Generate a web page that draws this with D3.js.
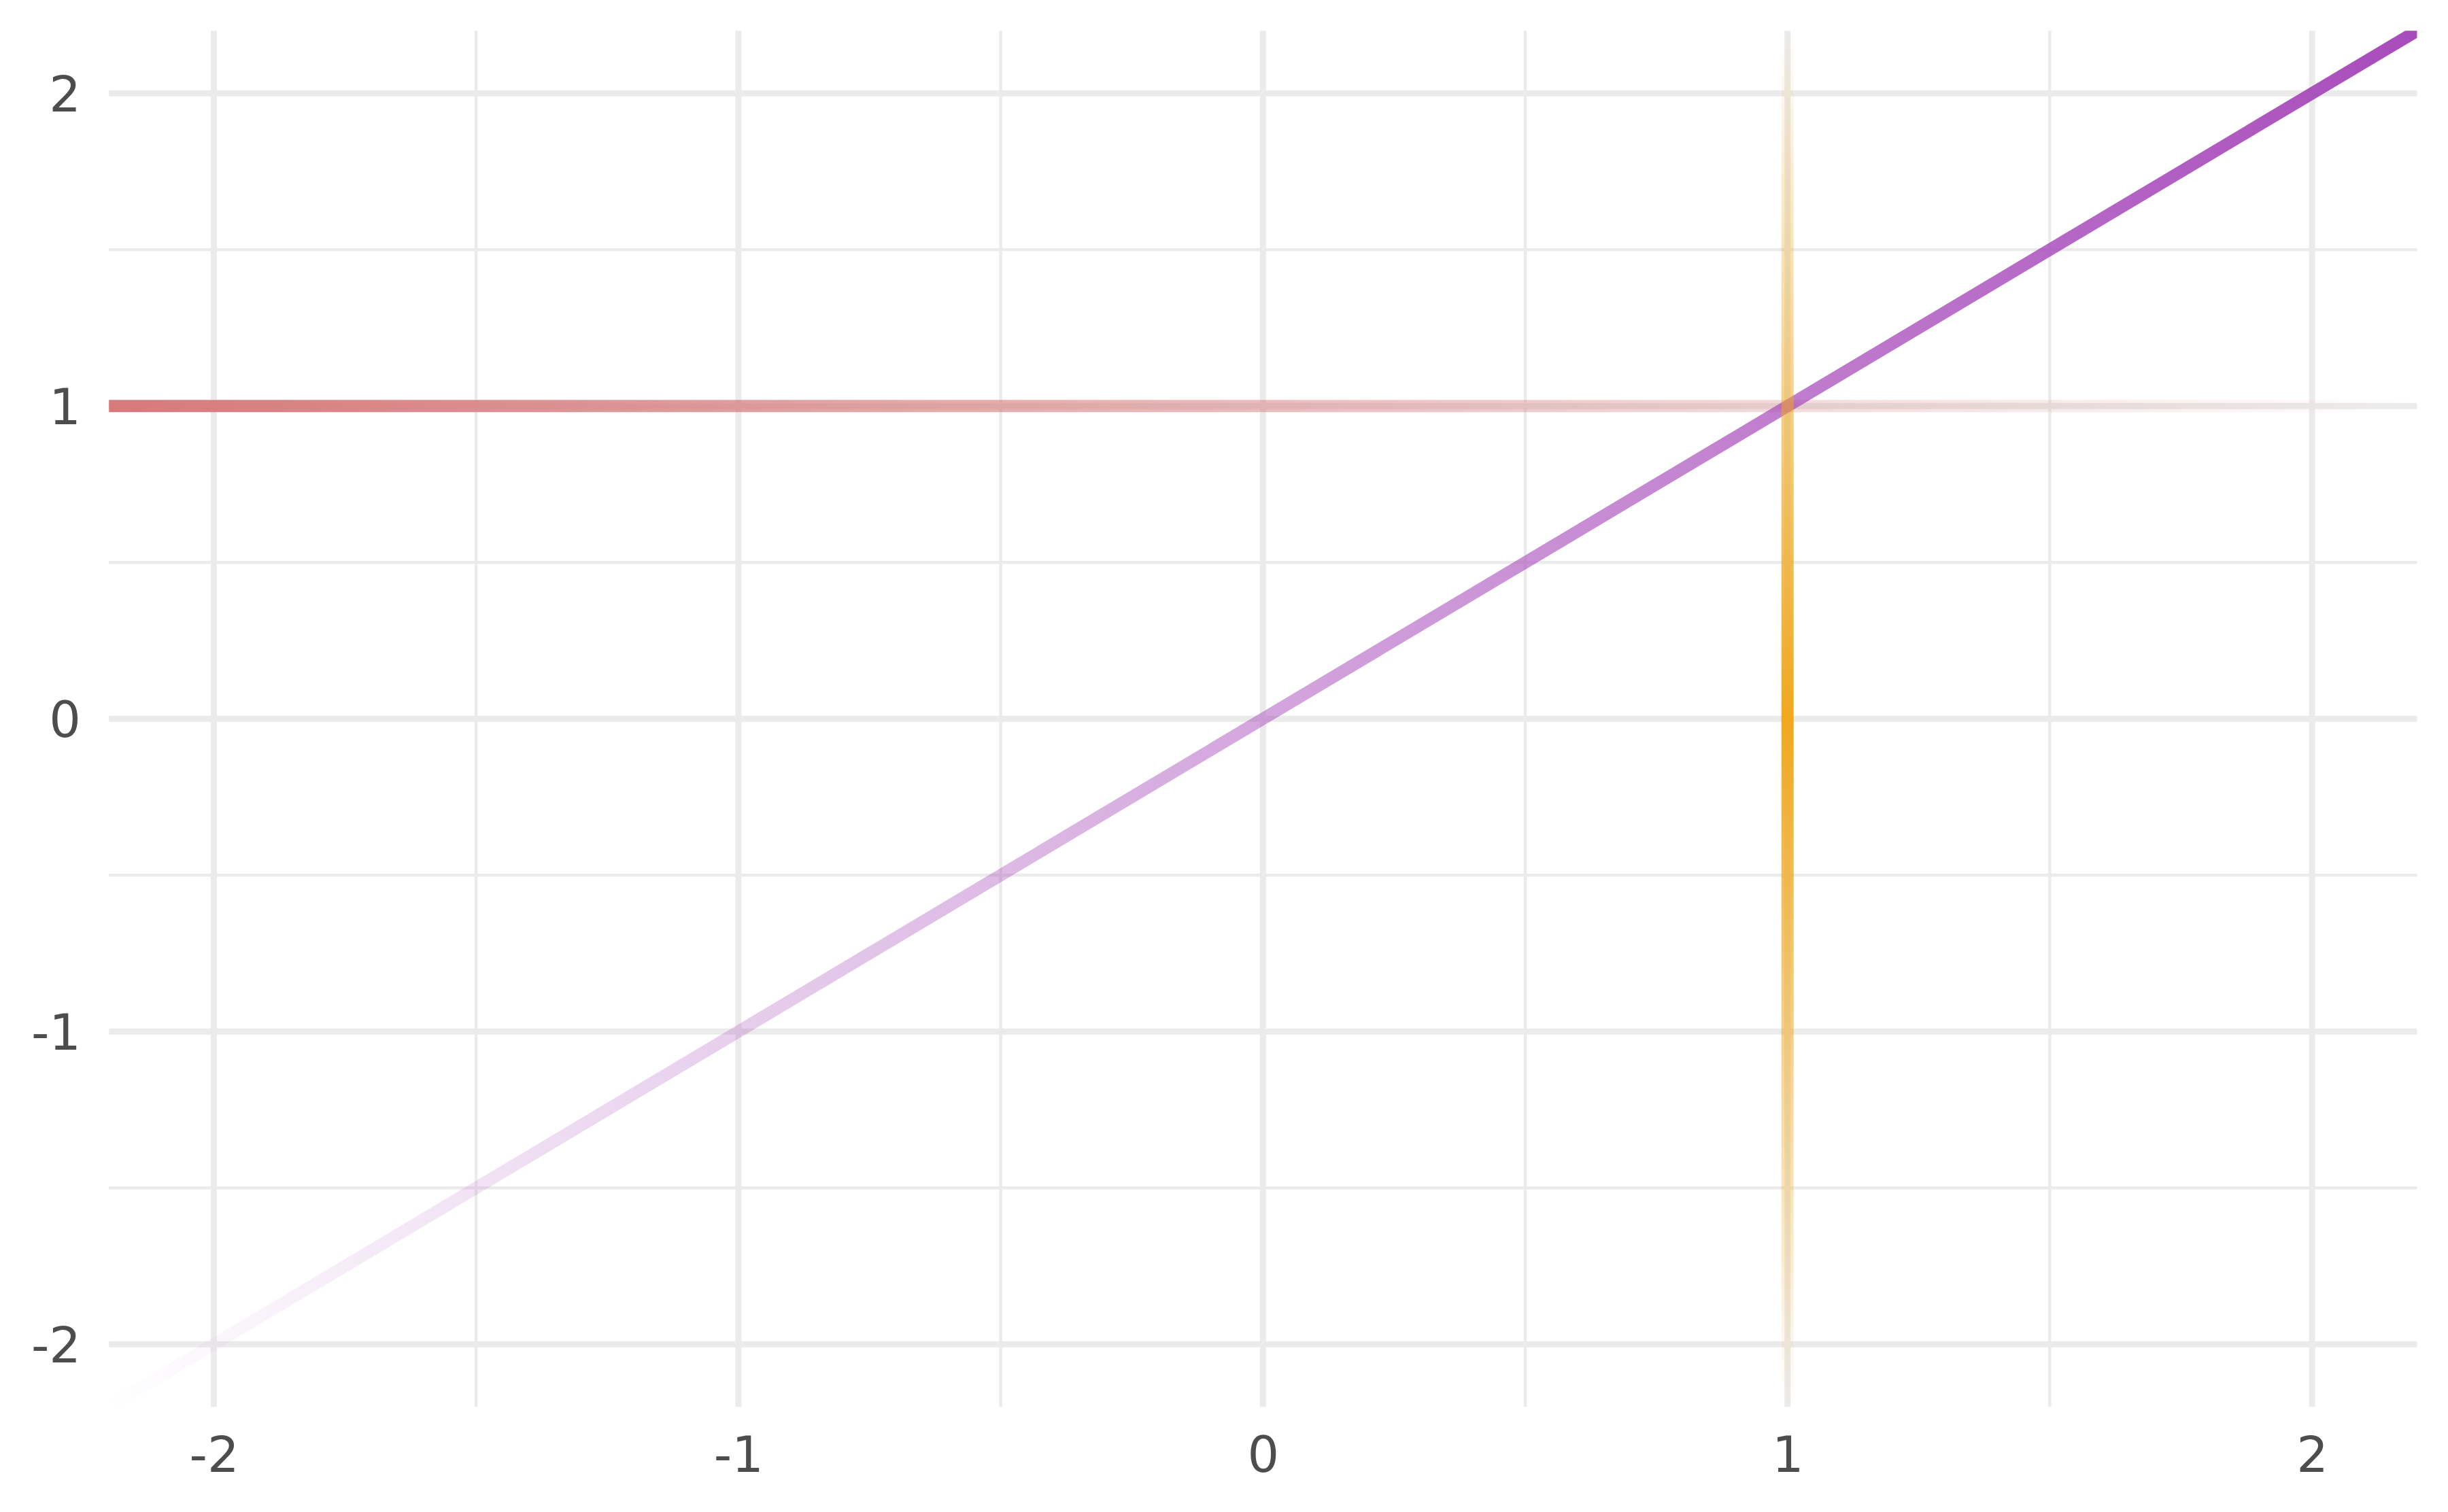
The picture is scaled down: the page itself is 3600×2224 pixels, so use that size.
<!DOCTYPE html>
<html>
<head>
<meta charset="utf-8">
<script src="https://cdn.jsdelivr.net/npm/d3@7"></script>
<style>
  html, body { margin: 0; padding: 0; background: #ffffff; }
  svg { display: block; }
</style>
</head>
<body>
<svg id="chart"></svg>
<script>
// axis limits and ticks
var xLimits = [-2.2, 2.2]
var yLimits = [-2.2, 2.2]
var majorTicks = [-2, -1, 0, 1, 2]
var minorTicks = [-1.5, -0.5, 0.5, 1.5]

// each series is a line whose opacity changes along it
var hLine = [{x: -2.2, y: 1, alpha: 1}, {x: 2.2, y: 1, alpha: 0}]
var diagLine = [{x: -2.2, y: -2.2, alpha: 0}, {x: 2.2, y: 2.2, alpha: 1}]
var vLine = [{x: 1, y: 2.2, alpha: 0}, {x: 1, y: 0, alpha: 1}, {x: 1, y: -2.2, alpha: 0}]

var seriesNames = ["horizontal", "diagonal", "vertical"]
var seriesColors = ["#D67A7A", "#A84CBB", "#F0A81E"]

var screen = {width: 3600, height: 2224}
var margins = {top: 45.3, right: 45.6, bottom: 154.7, left: 160.2}
var width = screen.width - margins.left - margins.right
var height = screen.height - margins.top - margins.bottom

var svg = d3.select("#chart")
    .attr("width", screen.width)
    .attr("height", screen.height)

var xScale = d3.scaleLinear().domain(xLimits).range([0, width])
var yScale = d3.scaleLinear().domain(yLimits).range([height, 0])

var graph = svg.append("g")
    .attr("id", "graph")
    .attr("transform", "translate(" + margins.left + "," + margins.top + ")")

var defs = svg.append("defs")
defs.append("clipPath")
    .attr("id", "panelClip")
    .append("rect")
    .attr("x", 0).attr("y", 0)
    .attr("width", width).attr("height", height)

//gridlines, minor first
var grid = graph.append("g").attr("class", "grid")
grid.selectAll(".vminor").data(minorTicks).enter().append("line")
    .attr("x1", function(d) { return xScale(d) })
    .attr("x2", function(d) { return xScale(d) })
    .attr("y1", 0).attr("y2", height)
    .attr("stroke", "#EBEBEB").attr("stroke-width", 4.45)
grid.selectAll(".hminor").data(minorTicks).enter().append("line")
    .attr("y1", function(d) { return yScale(d) })
    .attr("y2", function(d) { return yScale(d) })
    .attr("x1", 0).attr("x2", width)
    .attr("stroke", "#EBEBEB").attr("stroke-width", 4.45)
grid.selectAll(".vmajor").data(majorTicks).enter().append("line")
    .attr("x1", function(d) { return xScale(d) })
    .attr("x2", function(d) { return xScale(d) })
    .attr("y1", 0).attr("y2", height)
    .attr("stroke", "#EBEBEB").attr("stroke-width", 8.9)
grid.selectAll(".hmajor").data(majorTicks).enter().append("line")
    .attr("y1", function(d) { return yScale(d) })
    .attr("y2", function(d) { return yScale(d) })
    .attr("x1", 0).attr("x2", width)
    .attr("stroke", "#EBEBEB").attr("stroke-width", 8.9)

//gradient lines
var drawLine = function(points, name, color)
{
    var first = points[0]
    var last = points[points.length - 1]
    var grad = defs.append("linearGradient")
        .attr("id", "grad-" + name)
        .attr("gradientUnits", "userSpaceOnUse")
        .attr("x1", xScale(first.x)).attr("y1", yScale(first.y))
        .attr("x2", xScale(last.x)).attr("y2", yScale(last.y))
    var dx = last.x - first.x
    var dy = last.y - first.y
    var len2 = dx * dx + dy * dy
    grad.selectAll("stop").data(points).enter().append("stop")
        .attr("offset", function(p) { return ((p.x - first.x) * dx + (p.y - first.y) * dy) / len2 })
        .attr("stop-color", color)
        .attr("stop-opacity", function(p) { return p.alpha })

    // run a little past both ends so the clip cuts it at the panel edge
    graph.append("line")
        .attr("clip-path", "url(#panelClip)")
        .attr("x1", xScale(first.x - dx * 0.05)).attr("y1", yScale(first.y - dy * 0.05))
        .attr("x2", xScale(last.x + dx * 0.05)).attr("y2", yScale(last.y + dy * 0.05))
        .attr("stroke", "url(#grad-" + name + ")")
        .attr("stroke-width", 18)
        .attr("stroke-linecap", "butt")
}

drawLine(hLine, seriesNames[0], seriesColors[0])
drawLine(diagLine, seriesNames[1], seriesColors[1])
drawLine(vLine, seriesNames[2], seriesColors[2])

//axes, text only
var xAxis = d3.axisBottom(xScale).tickValues(majorTicks).tickSize(0).tickPadding(44)
    .tickFormat(function(d) { return String(d) })
var yAxis = d3.axisLeft(yScale).tickValues(majorTicks).tickSize(0).tickPadding(41.2)
    .tickFormat(function(d) { return String(d) })

var xg = graph.append("g")
    .attr("id", "xAxis")
    .attr("transform", "translate(0," + height + ")")
    .call(xAxis)
var yg = graph.append("g")
    .attr("id", "yAxis")
    .call(yAxis)

svg.selectAll(".domain").remove()
svg.selectAll(".tick line").remove()
svg.selectAll(".tick text")
    .attr("font-family", "DejaVu Sans")
    .attr("font-size", 73.3)
    .attr("fill", "#4D4D4D")
yg.selectAll(".tick text").attr("dy", "0.36em")
</script>
</body>
</html>
